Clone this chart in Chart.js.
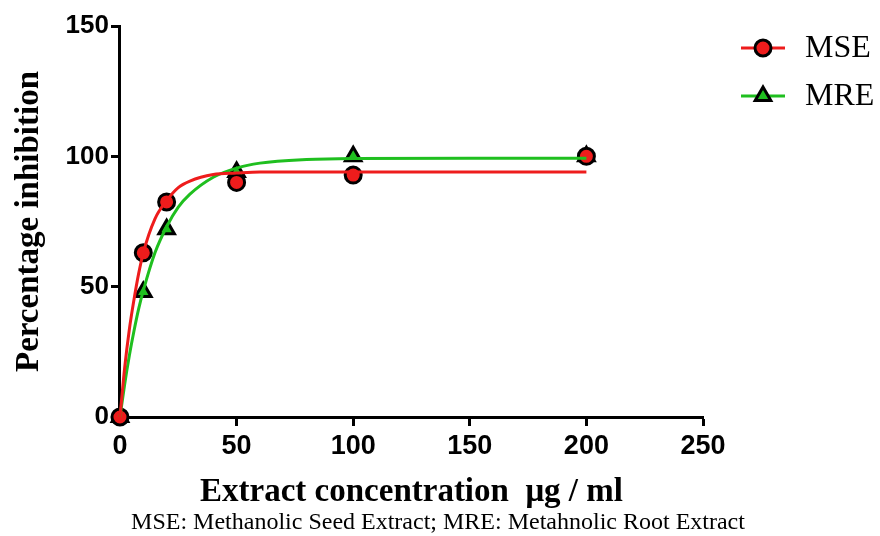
<!DOCTYPE html>
<html>
<head>
<meta charset="utf-8">
<script src="https://cdn.jsdelivr.net/npm/chart.js@4"></script>
<style>
  html, body { margin: 0; padding: 0; background: #fff; }
  #wrap { width: 880px; height: 536px; }
</style>
</head>
<body>
<div id="wrap"><canvas id="chart" width="880" height="536"></canvas></div>
<script>
// measured points
const concentrations = [0, 10, 20, 50, 100, 200];
const mseValues = [0, 63, 82.5, 90, 92.8, 100];
const mreValues = [0, 48, 72, 94, 100, 100];

// fitted curves
const curveX = [0, 2, 4, 6, 8, 10, 15, 20, 25, 30, 40, 50, 60, 80, 100, 150, 200];
const mseCurve = [0, 18.8, 33.5, 45, 55, 63, 76, 83, 88, 90.5, 93, 93.6, 94, 94, 94, 94, 94];
const mreCurve = [0, 12.5, 23.5, 33, 41.5, 48.5, 63, 73, 80.5, 85.5, 92, 95.5, 97.4, 98.8, 99.2, 99.3, 99.3];

const xTicks = [0, 50, 100, 150, 200, 250];
const yTicks = [0, 50, 100, 150];

const seriesNames = ['MSE', 'MRE'];
const seriesColors = ['#ee1c1c', '#1fbf1f'];
const caption = 'MSE: Methanolic Seed Extract; MRE: Metahnolic Root Extract';

const serif = '"Liberation Serif", "Times New Roman", serif';
const sans = '"Liberation Sans", Arial, sans-serif';

const pairs = (xs, ys) => xs.map((x, i) => ({ x: x, y: ys[i] }));

// legend drawn by hand (line + marker + label) and the caption under the chart
const extras = {
  id: 'extras',
  afterDraw(chart) {
    const ctx = chart.ctx;
    const rows = [
      { name: seriesNames[0], color: seriesColors[0], style: 'circle', r: 8, y: 48 },
      { name: seriesNames[1], color: seriesColors[1], style: 'triangle', r: 9, y: 96 }
    ];
    ctx.save();
    rows.forEach(row => {
      ctx.strokeStyle = row.color;
      ctx.lineWidth = 3;
      ctx.beginPath();
      ctx.moveTo(741, row.y);
      ctx.lineTo(785, row.y);
      ctx.stroke();
      ctx.fillStyle = row.color;
      ctx.strokeStyle = '#000';
      ctx.lineWidth = 3;
      Chart.helpers.drawPoint(ctx, {
        pointStyle: row.style, radius: row.r, borderWidth: 3, rotation: 0
      }, 763, row.y);
      ctx.fillStyle = '#000';
      ctx.font = '32px ' + serif;
      ctx.textBaseline = 'middle';
      ctx.textAlign = 'left';
      ctx.fillText(row.name, 805, row.y + 1);
    });
    ctx.font = '24px ' + serif;
    ctx.textAlign = 'center';
    ctx.textBaseline = 'middle';
    ctx.fillText(caption, 438, 523);
    ctx.restore();
  }
};

new Chart(document.getElementById('chart').getContext('2d'), {
  type: 'scatter',
  data: {
    datasets: [
      {
        label: 'MSE fit',
        data: pairs(curveX, mseCurve),
        showLine: true,
        borderColor: seriesColors[0],
        borderWidth: 3,
        pointRadius: 0,
        cubicInterpolationMode: 'monotone',
        clip: false
      },
      {
        label: 'MRE fit',
        data: pairs(curveX, mreCurve),
        showLine: true,
        borderColor: seriesColors[1],
        borderWidth: 3,
        pointRadius: 0,
        cubicInterpolationMode: 'monotone',
        clip: false
      },
      {
        label: seriesNames[0],
        data: pairs(concentrations, mseValues),
        pointStyle: 'circle',
        pointRadius: 8,
        pointBorderWidth: 3,
        backgroundColor: seriesColors[0],
        borderColor: '#000',
        clip: false
      },
      {
        label: seriesNames[1],
        data: pairs(concentrations, mreValues),
        pointStyle: 'triangle',
        pointRadius: 9,
        pointBorderWidth: 3,
        backgroundColor: seriesColors[1],
        borderColor: '#000',
        clip: false
      }
    ]
  },
  options: {
    responsive: false,
    animation: false,
    layout: { padding: { left: 10, right: 177, top: 26, bottom: 24 } },
    plugins: {
      legend: { display: false },
      tooltip: { enabled: false }
    },
    scales: {
      x: {
        type: 'linear',
        min: 0,
        max: 250,
        afterBuildTicks: axis => { axis.ticks = xTicks.map(v => ({ value: v })); },
        border: { display: true, color: '#000', width: 3 },
        grid: { display: true, drawOnChartArea: false, drawTicks: true, tickLength: 9, tickWidth: 3, tickColor: '#000' },
        ticks: {
          color: '#000',
          padding: 4,
          maxRotation: 0,
          font: { family: sans, size: 27, weight: 'bold' }
        },
        title: {
          display: true,
          text: 'Extract concentration  \u03bcg / ml',
          color: '#000',
          font: { family: serif, size: 33, weight: 'bold' },
          padding: { top: 6, bottom: 0 }
        }
      },
      y: {
        type: 'linear',
        min: 0,
        max: 150,
        afterBuildTicks: axis => { axis.ticks = yTicks.map(v => ({ value: v })); },
        border: { display: true, color: '#000', width: 3 },
        grid: { display: true, drawOnChartArea: false, drawTicks: true, tickLength: 9, tickWidth: 3, tickColor: '#000' },
        ticks: {
          color: '#000',
          padding: 2,
          font: { family: sans, size: 26, weight: 'bold' }
        },
        title: {
          display: true,
          text: 'Percentage inhibition',
          color: '#000',
          font: { family: serif, size: 33, weight: 'bold' },
          padding: { top: 0, bottom: 14 }
        }
      }
    }
  },
  plugins: [extras]
});
</script>
</body>
</html>
